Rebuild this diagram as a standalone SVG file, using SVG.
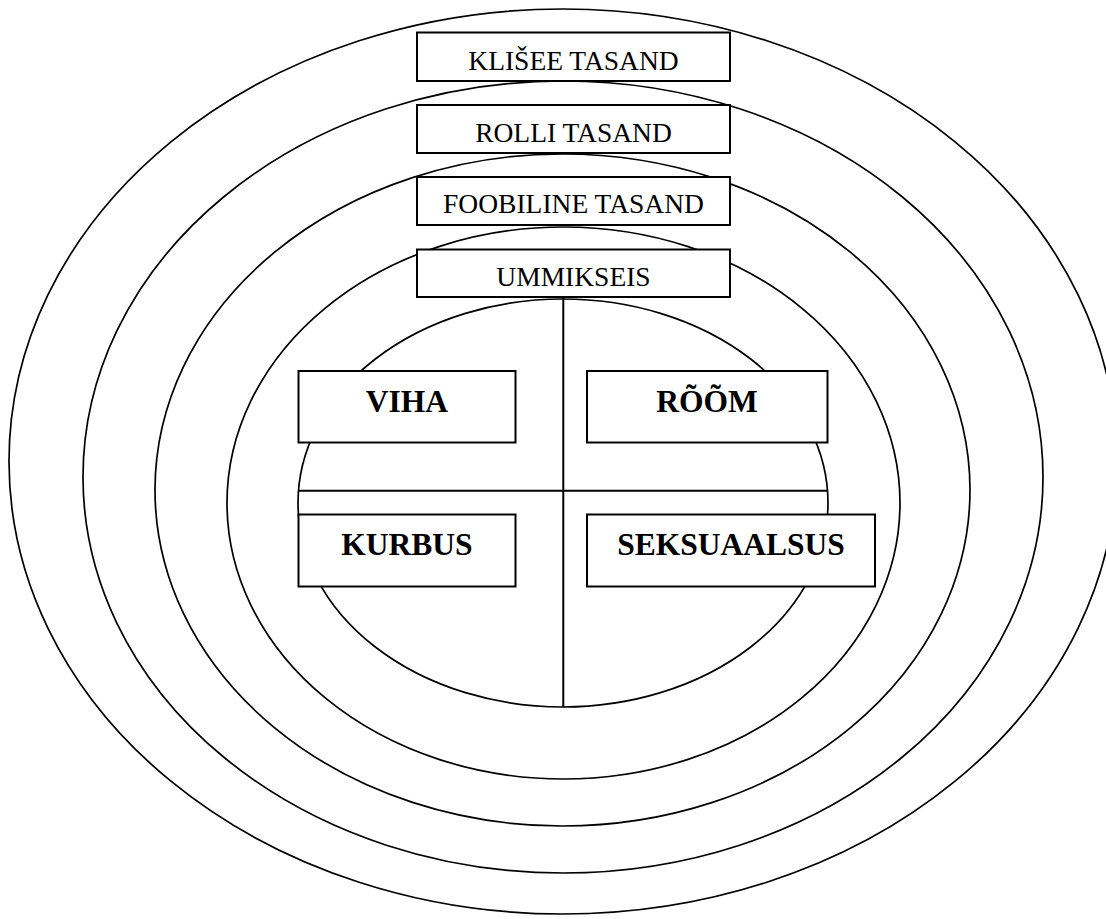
<svg xmlns="http://www.w3.org/2000/svg" width="1106" height="919" viewBox="0 0 1106 919">
<style>
.ring{fill:none;stroke:#000;stroke-width:1.7}
.box{fill:#fff;stroke:#000;stroke-width:2}
.line{stroke:#000;stroke-width:2;fill:none}
.lvl{font-family:"Liberation Serif","Times New Roman",serif;font-size:27.5px;fill:#000;text-anchor:middle}
.emo{font-family:"Liberation Serif","Times New Roman",serif;font-size:31.5px;font-weight:bold;fill:#000;text-anchor:middle}
</style>
<rect width="1106" height="919" fill="#fff"/>
<g id="rings">
<ellipse id="ring-cliche" class="ring" cx="563" cy="461.5" rx="554" ry="452.5"/>
<ellipse id="ring-role" class="ring" cx="563" cy="477" rx="480" ry="396"/>
<ellipse id="ring-phobic" class="ring" cx="562.5" cy="490" rx="407.5" ry="336"/>
<ellipse id="ring-impasse" class="ring" cx="563.5" cy="503" rx="336.5" ry="276"/>
<ellipse id="ring-core" class="ring" cx="563" cy="503" rx="265" ry="204"/>
</g>
<g id="connectors">
<line class="line" x1="563.3" y1="297" x2="563.3" y2="707"/>
<line class="line" x1="299" y1="490.7" x2="827" y2="490.7"/>
</g>
<g id="cliche">
<rect class="box" x="417" y="32.5" width="313" height="48.5"/>
<text class="lvl" x="573.5" y="70">KLIŠEE TASAND</text>
</g>
<g id="role">
<rect class="box" x="417" y="105" width="313" height="48"/>
<text class="lvl" x="573.5" y="141.7">ROLLI TASAND</text>
</g>
<g id="phobic">
<rect class="box" x="417" y="177" width="313" height="48"/>
<text class="lvl" x="573.5" y="213">FOOBILINE TASAND</text>
</g>
<g id="impasse">
<rect class="box" x="417" y="249.5" width="313" height="47.5"/>
<text class="lvl" x="573.5" y="286">UMMIKSEIS</text>
</g>
<g id="viha">
<rect class="box" x="298.5" y="371" width="217" height="71.5"/>
<text class="emo" x="407" y="411.7">VIHA</text>
</g>
<g id="room">
<rect class="box" x="587" y="371" width="240.5" height="71.5"/>
<text class="emo" x="707" y="411.7">RÕÕM</text>
</g>
<g id="kurbus">
<rect class="box" x="298.5" y="514.5" width="217" height="72"/>
<text class="emo" x="407" y="554.5">KURBUS</text>
</g>
<g id="seksuaalsus">
<rect class="box" x="587" y="514.5" width="288" height="72"/>
<text class="emo" x="731" y="555">SEKSUAALSUS</text>
</g>
</svg>
